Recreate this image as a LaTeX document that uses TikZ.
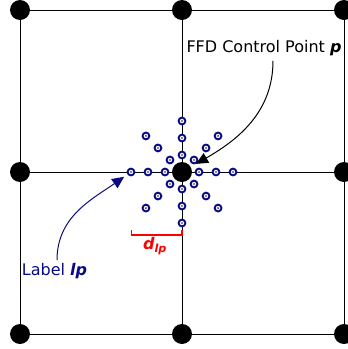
\documentclass[tikz,border=0pt]{standalone}
\usepackage{fontspec}
\setmainfont{DejaVu Sans}
\usetikzlibrary{arrows.meta}
\definecolor{lblblue}{RGB}{10,10,130}
\definecolor{dred}{RGB}{255,0,0}
\tikzset{
  cpoint/.style={circle, fill=black, minimum size=20pt, inner sep=0pt},
  lpoint/.style={circle, draw=lblblue, fill=white, line width=1.9pt, minimum size=6.8pt, inner sep=0pt,
    path picture={\fill[lblblue] (path picture bounding box.center) circle (0.9pt);}},
  txt/.style={font=\fontsize{16}{19}\selectfont, inner sep=1pt},
}
\begin{document}
\begin{tikzpicture}[x=1pt,y=-1pt]
  \useasboundingbox (0,0) rectangle (348,349);
  % grid of control points
  \foreach \i/\x in {0/20,1/182,2/344}
    \foreach \j/\y in {0/10,1/172,2/334}
      \coordinate (g-\i-\j) at (\x,\y);
  \foreach \i in {0,1,2} {
    \draw[line width=1pt] (g-\i-0) -- (g-\i-2);
    \draw[line width=1pt] (g-0-\i) -- (g-2-\i);
  }
  \foreach \i in {0,1,2}
    \foreach \j in {0,1,2}
      \node[cpoint] (cp-\i-\j) at (g-\i-\j) {};
  % labels around the centre point
  \foreach \a in {0,45,...,315}
    \foreach \r in {1,2,3}
      \node[lpoint] (lp-\a-\r) at ([shift={(\a:{17*\r})}]g-1-1) {};
  % distance d_lp
  \coordinate (dl) at (131.7,230);
  \coordinate (dr) at (182,230);
  \draw[draw=dred, line width=1.2pt] (dl) -- ++(0,5) -| (dr);
  \node[txt, text=dred] (dlp) at (155,246) {\textbf{\textit{d\textsubscript{lp}}}};
  % annotations
  \node[txt] (ffd) at (264,48) {FFD Control Point \textbf{\textit{p}}};
  \draw[line width=1pt, -{Triangle[length=12pt,width=11pt]}, shorten >=6pt]
    ([xshift=9pt,yshift=-4pt]ffd.south) to[out=-90, in=30] (cp-1-1);
  \node[txt, text=lblblue] (lab) at (54.5,271) {Label \textbf{\textit{lp}}};
  \draw[line width=1pt, lblblue, -{Triangle[length=12pt,width=11pt]}, shorten >=4pt]
    ([xshift=2.5pt,yshift=2pt]lab.north) to[out=90, in=215] (lp-180-3);
\end{tikzpicture}
\end{document}
